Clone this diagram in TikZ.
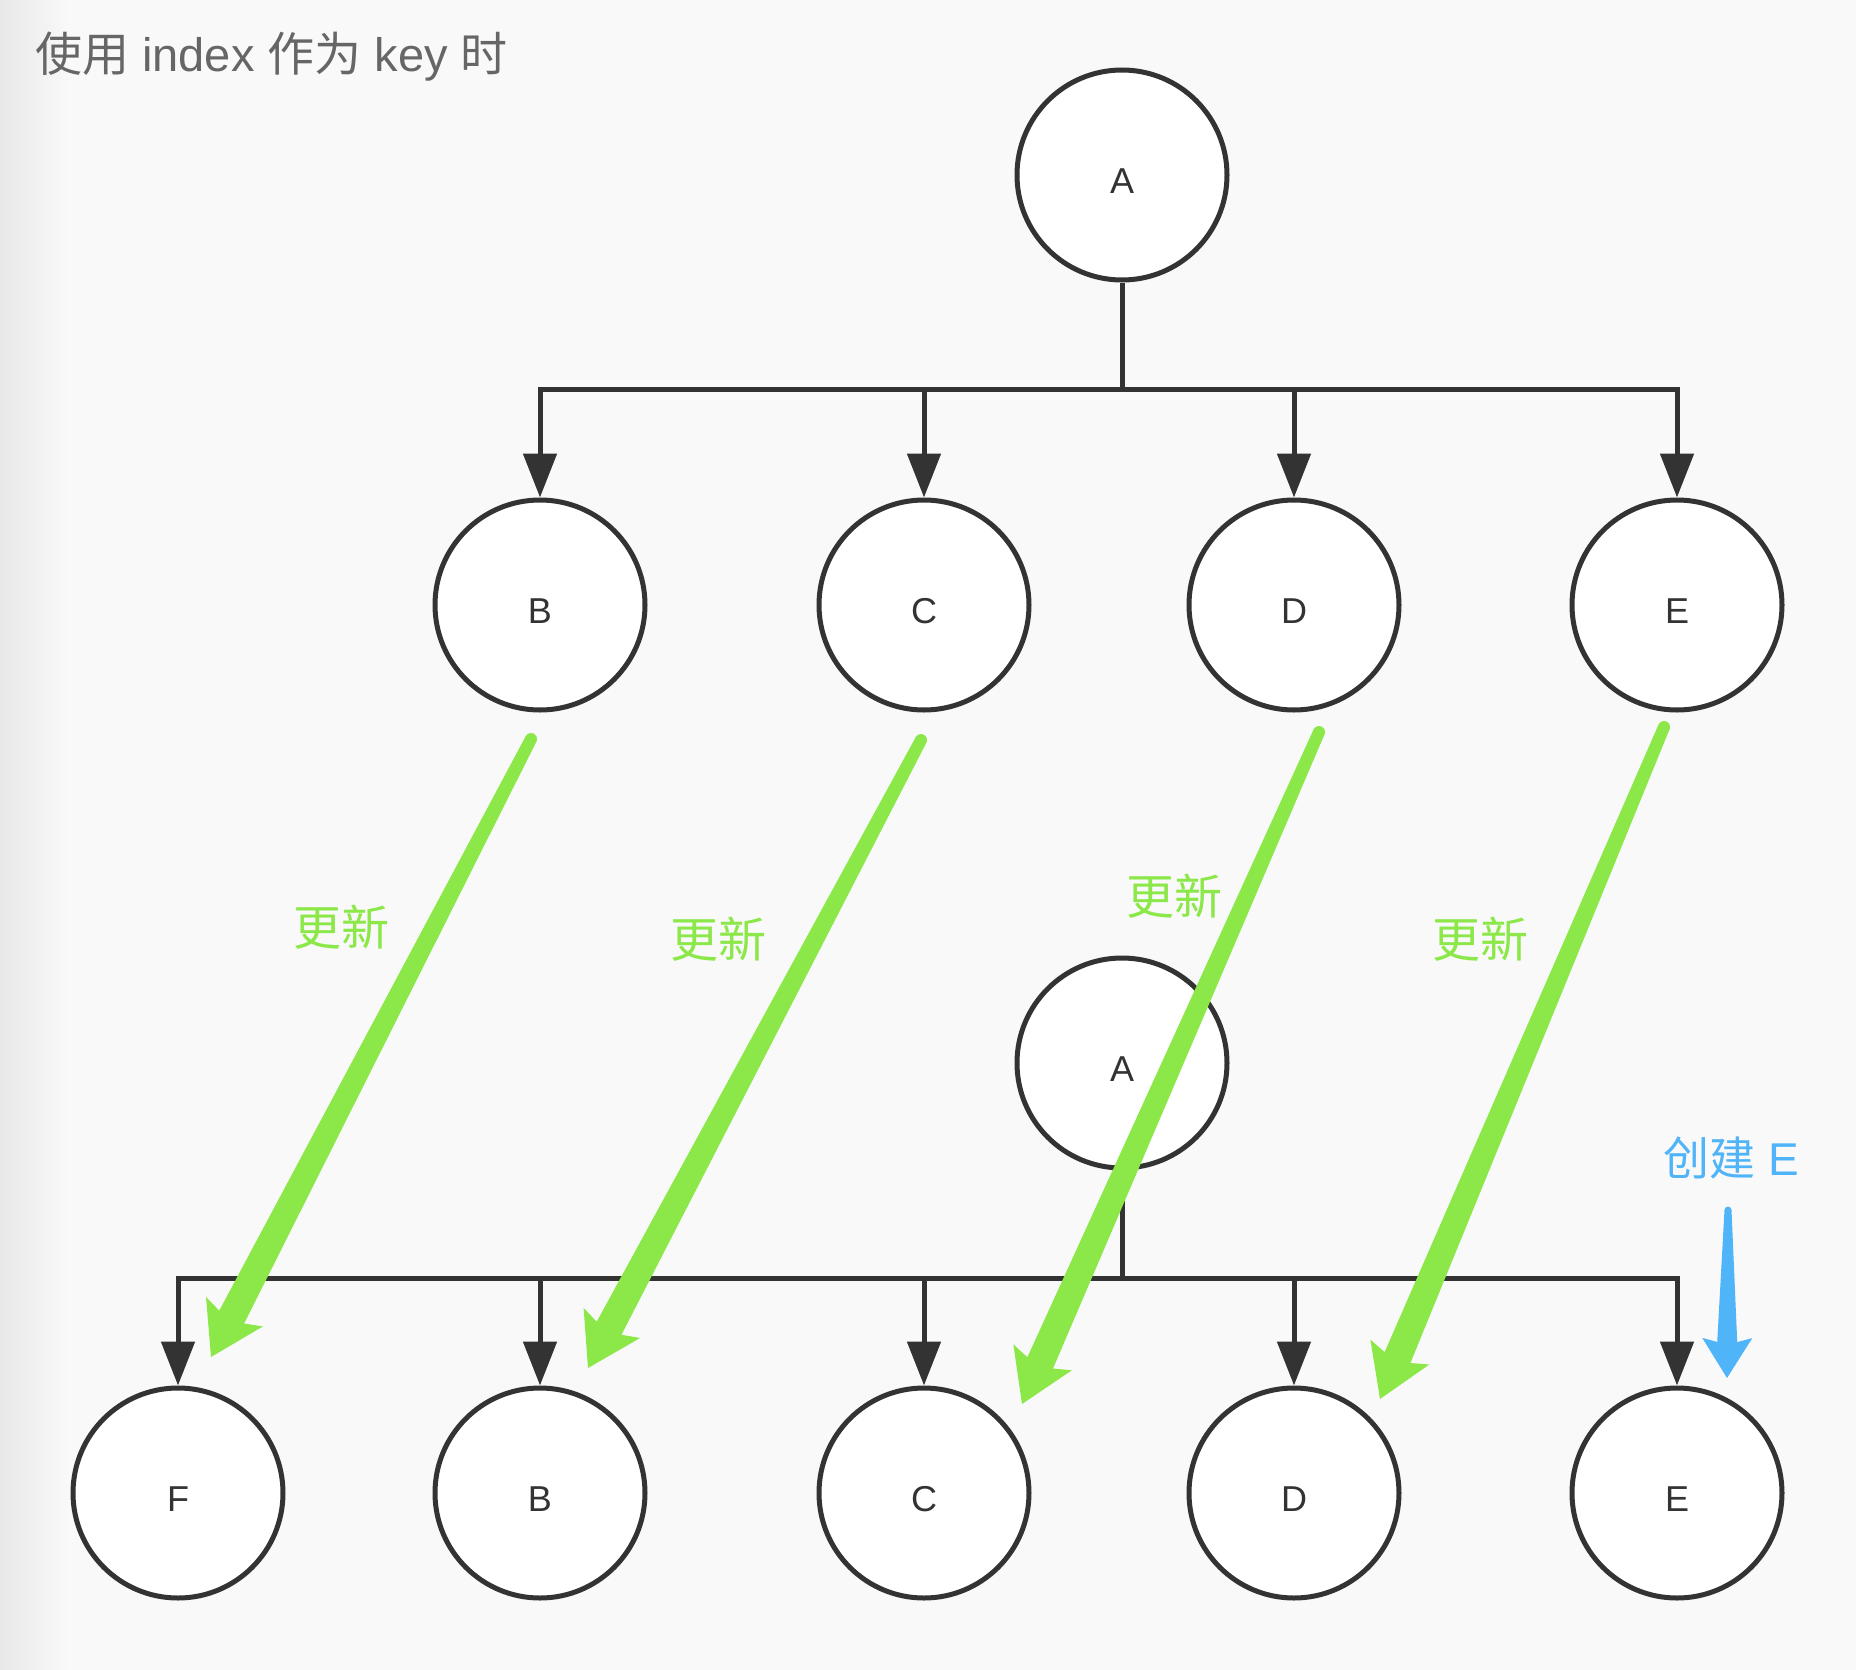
\documentclass[tikz,border=0pt]{standalone}
\usepackage{fontspec}
\setmainfont{Liberation Sans}
\newfontfamily\cjk{Noto Sans CJK SC}
\usetikzlibrary{arrows.meta,calc}
\definecolor{bgc}{HTML}{F9F9F9}
\definecolor{dark}{HTML}{333333}
\definecolor{titlec}{HTML}{666666}
\definecolor{grn}{RGB}{139,232,72}
\definecolor{blu}{RGB}{80,180,248}
% tapered arrow: #1 colour, #2 tail, #3 tip, #4 half tail width, #5 half shaft width at notch,
% #6 head length, #7 half head width, #8 notch distance from tip
\newcommand\taperarrow[8]{%
  \fill[#1] ($(#2)!#4!-90:(#3)$) -- ($(#3)!#8!(#2)!#5!90:(#2)$) -- ($(#3)!#6!(#2)!#7!90:(#2)$) -- (#3)
    -- ($(#3)!#6!(#2)!#7!-90:(#2)$) -- ($(#3)!#8!(#2)!#5!-90:(#2)$) -- ($(#2)!#4!90:(#3)$) -- cycle;
  \fill[#1] (#2) circle[radius=#4];
}
\begin{document}
\begin{tikzpicture}[x=1pt,y=-1pt,
  circ/.style={circle, draw=dark, line width=5pt, fill=white, minimum size=210pt, inner sep=0pt,
    font=\fontsize{36}{40}\selectfont, text=dark, text height=36pt, text depth=0pt},
  conn/.style={draw=dark, line width=5pt, line join=miter, -{Triangle[length=44pt,width=33pt]}},
  plain/.style={draw=dark, line width=5pt},
  upd/.style={text=grn, font=\cjk\fontsize{48}{52}\selectfont, inner sep=0pt},
]
\useasboundingbox (0,0) rectangle (1856,1670);
\fill[bgc] (0,0) rectangle (1856,1670);
\shade[left color=black!9, right color=bgc] (0,0) rectangle (70,1670);

% title
\node[anchor=base west, inner sep=0pt, text=titlec, font=\fontsize{47}{51}\selectfont] (title) at (35,72)
  {{\cjk 使用} index {\cjk 作为} key {\cjk 时}};

% top tree
\node[circ] (A1) at (1122,175) {A};
\node[circ] (B1) at (540,605) {B};
\node[circ] (C1) at (924,605) {C};
\node[circ] (D1) at (1294,605) {D};
\node[circ] (E1) at (1677,605) {E};
\coordinate (bus1) at (1122,389);
\draw[plain] (A1.south) -- (bus1);
\foreach \n in {B1,C1,D1,E1} \draw[conn] (bus1) -| (\n.north);

% bottom tree
\node[circ] (A2) at (1122,1063) {A};
\node[circ] (F2) at (178,1493) {F};
\node[circ] (B2) at (540,1493) {B};
\node[circ] (C2) at (924,1493) {C};
\node[circ] (D2) at (1294,1493) {D};
\node[circ] (E2) at (1677,1493) {E};
\coordinate (bus2) at (1122,1278);
\draw[plain] (A2.south) -- (bus2);
\foreach \n in {F2,B2,C2,D2,E2} \draw[conn] (bus2) -| (\n.north);

% update labels
\node[upd] (u1) at (341,927) {更新};
\node[upd] (u2) at (718,939) {更新};
\node[upd] (u3) at (1174,896) {更新};
\node[upd] (u4) at (1480,939) {更新};

% green arrows
\coordinate (gt1) at (531,739);  \coordinate (gh1) at (211,1357);
\coordinate (gt2) at (921,740);  \coordinate (gh2) at (588,1368);
\coordinate (gt3) at (1319,732); \coordinate (gh3) at (1022,1404);
\coordinate (gt4) at (1664,727); \coordinate (gh4) at (1380,1399);
\taperarrow{grn}{gt1}{gh1}{6pt}{14pt}{51pt}{32pt}{45pt}
\taperarrow{grn}{gt2}{gh2}{6pt}{14pt}{51pt}{32pt}{45pt}
\taperarrow{grn}{gt3}{gh3}{6pt}{14pt}{51pt}{32pt}{45pt}
\taperarrow{grn}{gt4}{gh4}{6pt}{14pt}{51pt}{32pt}{45pt}

% create E
\node[text=blu, inner sep=0pt, font=\fontsize{46}{50}\selectfont] (cr) at (1731,1158) {{\cjk 创建} E};
\coordinate (bt) at (1728,1210); \coordinate (bh) at (1727,1378);
\taperarrow{blu}{bt}{bh}{3.5pt}{10pt}{40pt}{25pt}{36pt}
\end{tikzpicture}
\end{document}
